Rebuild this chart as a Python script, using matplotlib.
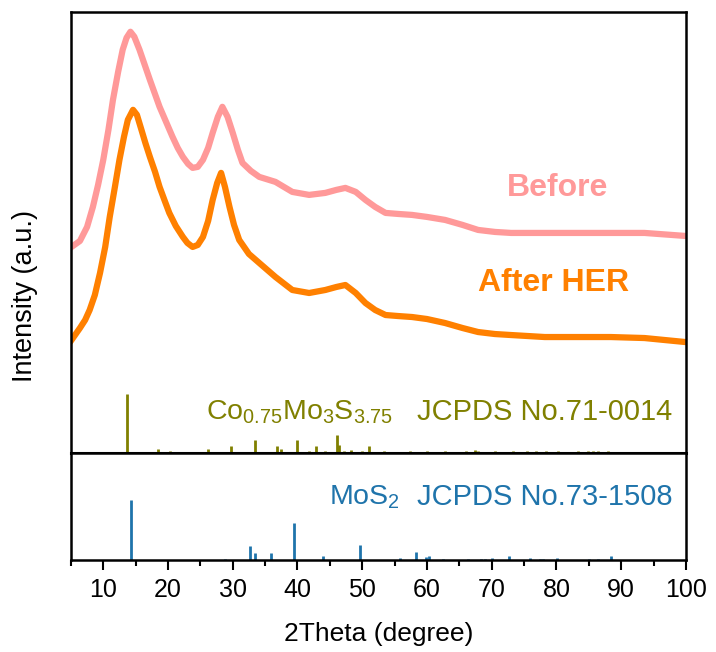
import numpy as np
import matplotlib
matplotlib.use('Agg')
import matplotlib.pyplot as plt
from matplotlib.ticker import MultipleLocator

plt.rcParams['font.family'] = ['Liberation Sans', 'DejaVu Sans']
plt.rcParams['mathtext.fontset'] = 'custom'
plt.rcParams['mathtext.rm'] = 'Liberation Sans'
plt.rcParams['mathtext.it'] = 'Liberation Sans:italic'

# XRD patterns (arbitrary units)
before_x = [5.1, 6.4, 7.5, 8.4, 9.2, 10.0, 10.8, 11.5, 12.3, 13.0, 13.6, 14.2, 14.8, 15.6,
            16.4, 17.2, 18.7, 19.7, 20.7, 21.5, 22.3, 23.1, 23.8, 24.6, 25.4, 26.2, 26.9,
            27.7, 28.4, 29.2, 30.0, 30.8, 31.5, 32.8, 34.1, 36.6, 39.2, 41.8, 44.3, 46.0,
            47.4, 49.0, 50.5, 52.0, 53.6, 55.5, 57.7, 60.0, 62.8, 65.5, 67.9, 70.5, 73.0,
            78.2, 83.3, 88.4, 93.6, 99.9]
before_y = [206, 212, 226, 246, 268, 293, 323, 353, 381, 403, 415, 421, 416, 403,
            388, 373, 346, 331, 316, 305, 296, 289, 285, 286, 293, 305, 320,
            336, 346, 336, 320, 303, 290, 282, 276, 271, 261, 258, 260, 263,
            265, 261, 253, 246, 240, 239, 238, 236, 233, 228, 223, 221, 220,
            220, 220, 220, 220, 217]

after_x = [5.1, 6.4, 7.2, 7.9, 8.7, 9.5, 10.3, 11.0, 11.8, 12.5, 13.2, 13.8, 14.6, 15.2,
           15.9, 16.5, 17.2, 18.0, 18.7, 19.5, 20.2, 21.2, 22.3, 23.0, 23.8, 24.6, 25.4,
           26.2, 26.9, 27.6, 28.2, 28.8, 29.5, 30.2, 31.0, 32.5, 34.1, 36.6, 39.2, 41.8,
           44.3, 46.0, 47.4, 49.0, 50.5, 52.0, 53.6, 55.5, 57.7, 60.0, 62.8, 65.5, 67.9,
           70.5, 73.0, 78.2, 83.3, 88.4, 93.6, 99.9]
after_y = [113, 125, 133, 143, 158, 180, 206, 236, 266, 293, 316, 333, 343, 338,
           323, 310, 296, 281, 266, 252, 240, 227, 216, 210, 206, 208, 216,
           232, 253, 270, 280, 266, 246, 228, 213, 199, 190, 176, 163, 160,
           163, 166, 168, 160, 150, 143, 138, 137, 136, 134, 130, 125, 121,
           119, 118, 116, 116, 116, 115, 111]

# reference patterns
co_pos = [13.7, 18.4, 20.3, 23.0, 26.2, 27.7, 29.7, 32.4, 33.4, 36.9, 37.4, 40.0, 41.8, 42.8,
          44.3, 46.1, 46.4, 47.2, 48.3, 50.0, 51.0, 53.3, 54.6, 56.1, 57.4, 58.7, 60.0,
          61.3, 62.8, 64.3, 66.1, 67.4, 67.9, 69.0, 70.5, 72.0, 73.3, 74.1, 75.4, 76.1,
          76.9, 77.7, 78.4, 79.2, 80.2, 81.3, 83.3, 84.1, 84.8, 85.6, 86.4, 87.2, 87.9,
          88.7, 89.2]
co_int = [100, 7.5, 3.5, 2.5, 7, 2.5, 12, 2.5, 22, 12, 7, 22, 3.5, 12,
          3.5, 30, 14, 3.5, 5, 3.5, 12, 3.5, 2.5, 2.5, 3, 2.5, 3,
          2.5, 3, 2.5, 3, 5, 3, 2.5, 3, 2.5, 3, 2.5, 3, 2.5,
          3, 2.5, 3, 2.5, 3, 2.5, 3, 2.5, 3.5, 4, 3, 2.5, 3,
          2.5, 2.5]

mos2_pos = [14.3, 28.8, 32.7, 33.5, 35.9, 39.5, 44.0, 49.6, 55.8, 58.3, 59.8, 60.3, 62.5,
            66.4, 68.4, 69.0, 70.0, 72.7, 75.9, 77.4, 77.9, 80.1, 85.1, 86.4, 88.5]
mos2_int = [100, 2.5, 23, 12, 12, 62, 6, 25, 3.5, 13, 5, 7, 2.5,
            2.5, 2.5, 2.5, 3.5, 7, 3.5, 2.5, 2.5, 3.5, 2.5, 2.5, 7]

c_before = '#FF9999'
c_after = '#FF8000'
c_co = '#808000'
c_mos2 = '#1F74AB'

fig = plt.figure(figsize=(7.16, 6.52), dpi=100)
ax1 = fig.add_axes([0.099, 0.305, 0.859, 0.677])
ax2 = fig.add_axes([0.099, 0.141, 0.859, 0.164], sharex=ax1)

ax1.plot(before_x, before_y, color=c_before, lw=4.5, solid_joinstyle='round')
ax1.plot(after_x, after_y, color=c_after, lw=4.5, solid_joinstyle='round')
ax1.vlines(co_pos, 0, np.array(co_int) * 0.59, color=c_co, lw=2)
ax1.set_ylim(0, 441)

ax2.vlines(mos2_pos, 0, np.array(mos2_int) * 0.6, color=c_mos2, lw=2)
ax2.set_ylim(0, 107)

ax1.text(80.2, 265, 'Before', color=c_before, fontsize=23, fontweight='bold',
         ha='center', va='center')
ax1.text(79.6, 170, 'After HER', color=c_after, fontsize=23, fontweight='bold',
         ha='center', va='center')
ax1.text(25.8, 41, r'Co$_{0.75}$Mo$_3$S$_{3.75}$', color=c_co, fontsize=20.5,
         ha='left', va='center')
ax1.text(58.4, 41, 'JCPDS No.71-0014', color=c_co, fontsize=21, ha='left', va='center')
ax2.text(44.8, 63, r'MoS$_2$', color=c_mos2, fontsize=20.5, ha='left', va='center')
ax2.text(58.4, 63, 'JCPDS No.73-1508', color=c_mos2, fontsize=21, ha='left', va='center')

ax2.set_xlim(5, 100)
ax2.xaxis.set_major_locator(MultipleLocator(10))
ax2.xaxis.set_minor_locator(MultipleLocator(5))
ax2.tick_params(axis='x', which='major', direction='out', length=7, width=1.5, labelsize=18,
                pad=6)
ax2.tick_params(axis='x', which='minor', direction='out', length=4, width=1.5)
ax2.set_xticks([10, 20, 30, 40, 50, 60, 70, 80, 90, 100])
ax2.set_xlabel('2Theta (degree)', fontsize=19, labelpad=14)
ax1.tick_params(axis='x', which='both', bottom=False, labelbottom=False)
for a in (ax1, ax2):
    a.set_yticks([])
    for s in a.spines.values():
        s.set_linewidth(1.8)
ax1.spines['bottom'].set_linewidth(2.2)
fig.text(0.035, 0.546, 'Intensity (a.u.)', rotation=90, fontsize=19.5, ha='center',
         va='center')

fig.savefig('out.png', dpi=100)
